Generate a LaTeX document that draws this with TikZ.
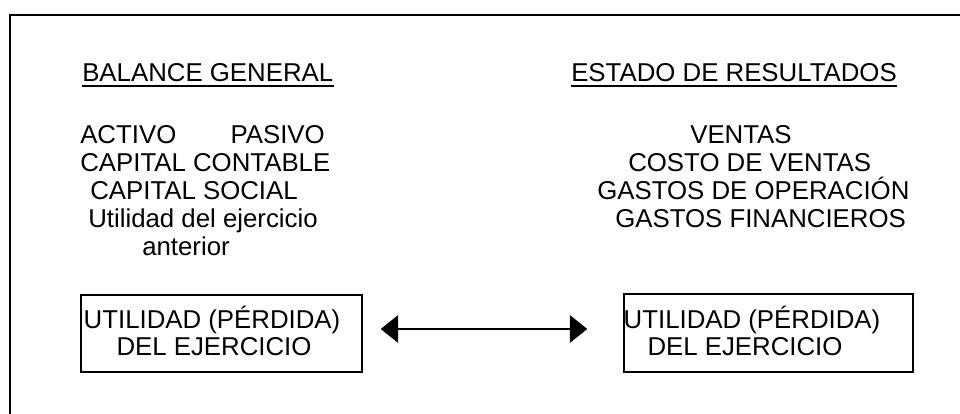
\documentclass[tikz,border=0pt]{standalone}
\usepackage{fontspec}
\setmainfont{Liberation Sans}
\usepackage{tikz}
\usetikzlibrary{positioning, arrows.meta}

\tikzset{
    txt/.style={anchor=base west, inner sep=0pt},
    txtc/.style={anchor=base, inner sep=0pt},
    caja/.style={draw, line width=1pt, inner sep=0pt},
    flecha/.style={line width=1pt, {Triangle[length=12.3pt, width=19.5pt]}-{Triangle[length=12.3pt, width=19.5pt]}}
}

\begin{document}
\begin{tikzpicture}[x=0.025cm, y=-0.025cm, font=\fontsize{18.35pt}{22pt}\selectfont]
    \useasboundingbox (0,0) rectangle (960,414);

    % Open frame (top and left side only)
    \coordinate (frameTop) at (960,15);
    \coordinate (frameCorner) at (10,15);
    \coordinate (frameBottom) at (10,414);
    \draw[line width=1.2pt] (frameTop) -- (frameCorner) -- (frameBottom);

    % Headings
    \node[txt] (Balance) at (82,81) {BALANCE GENERAL\ };
    \draw[line width=1pt] ([shift={(0,5)}]Balance.base west) -- ([shift={(0,5)}]Balance.base east);

    \node[txt] (Estado) at (571,81) {ESTADO DE RESULTADOS};
    \draw[line width=1pt] ([shift={(0,5)}]Estado.base west) -- ([shift={(0,5)}]Estado.base east);

    % Balance general items
    \node[txt] (activo) at (80,143) {ACTIVO};
    \node[anchor=base east, inner sep=0pt] (pasivo) at (325,143) {PASIVO};
    \node[txt] (capContable) at (80,171) {CAPITAL CONTABLE};
    \node[txt] (capSocial) at (90,199) {CAPITAL SOCIAL};
    \node[txt] (utilAnterior) at (88,227) {Utilidad del ejercicio};
    \node[txt] (anterior) at (142,255) {anterior};

    % Estado de resultados items
    \node[txt] (ventas) at (690,143) {VENTAS};
    \node[txt] (costoVentas) at (628,171) {COSTO DE VENTAS};
    \node[txt] (gastosOper) at (597,199) {GASTOS DE OPERACIÓN};
    \node[txt] (gastosFin) at (615,227) {GASTOS FINANCIEROS};

    % Result boxes
    \node[caja, minimum width=7.025cm, minimum height=1.925cm] (leftBox) at (221.5,333.5) {};
    \node[txtc] (leftUtil) at (212,328) {UTILIDAD (PÉRDIDA)};
    \node[txtc] (leftDel) at (214,355) {DEL EJERCICIO};

    \node[caja, minimum width=7.225cm, minimum height=1.95cm] (rightBox) at (768.5,333) {};
    \node[txtc] (rightUtil) at (752,328) {UTILIDAD (PÉRDIDA)};
    \node[txtc] (rightDel) at (745,355) {DEL EJERCICIO};

    \draw[flecha] ([shift={(18,-4.5)}]leftBox.east) -- ([shift={(-36,-4)}]rightBox.west);

\end{tikzpicture}
\end{document}
